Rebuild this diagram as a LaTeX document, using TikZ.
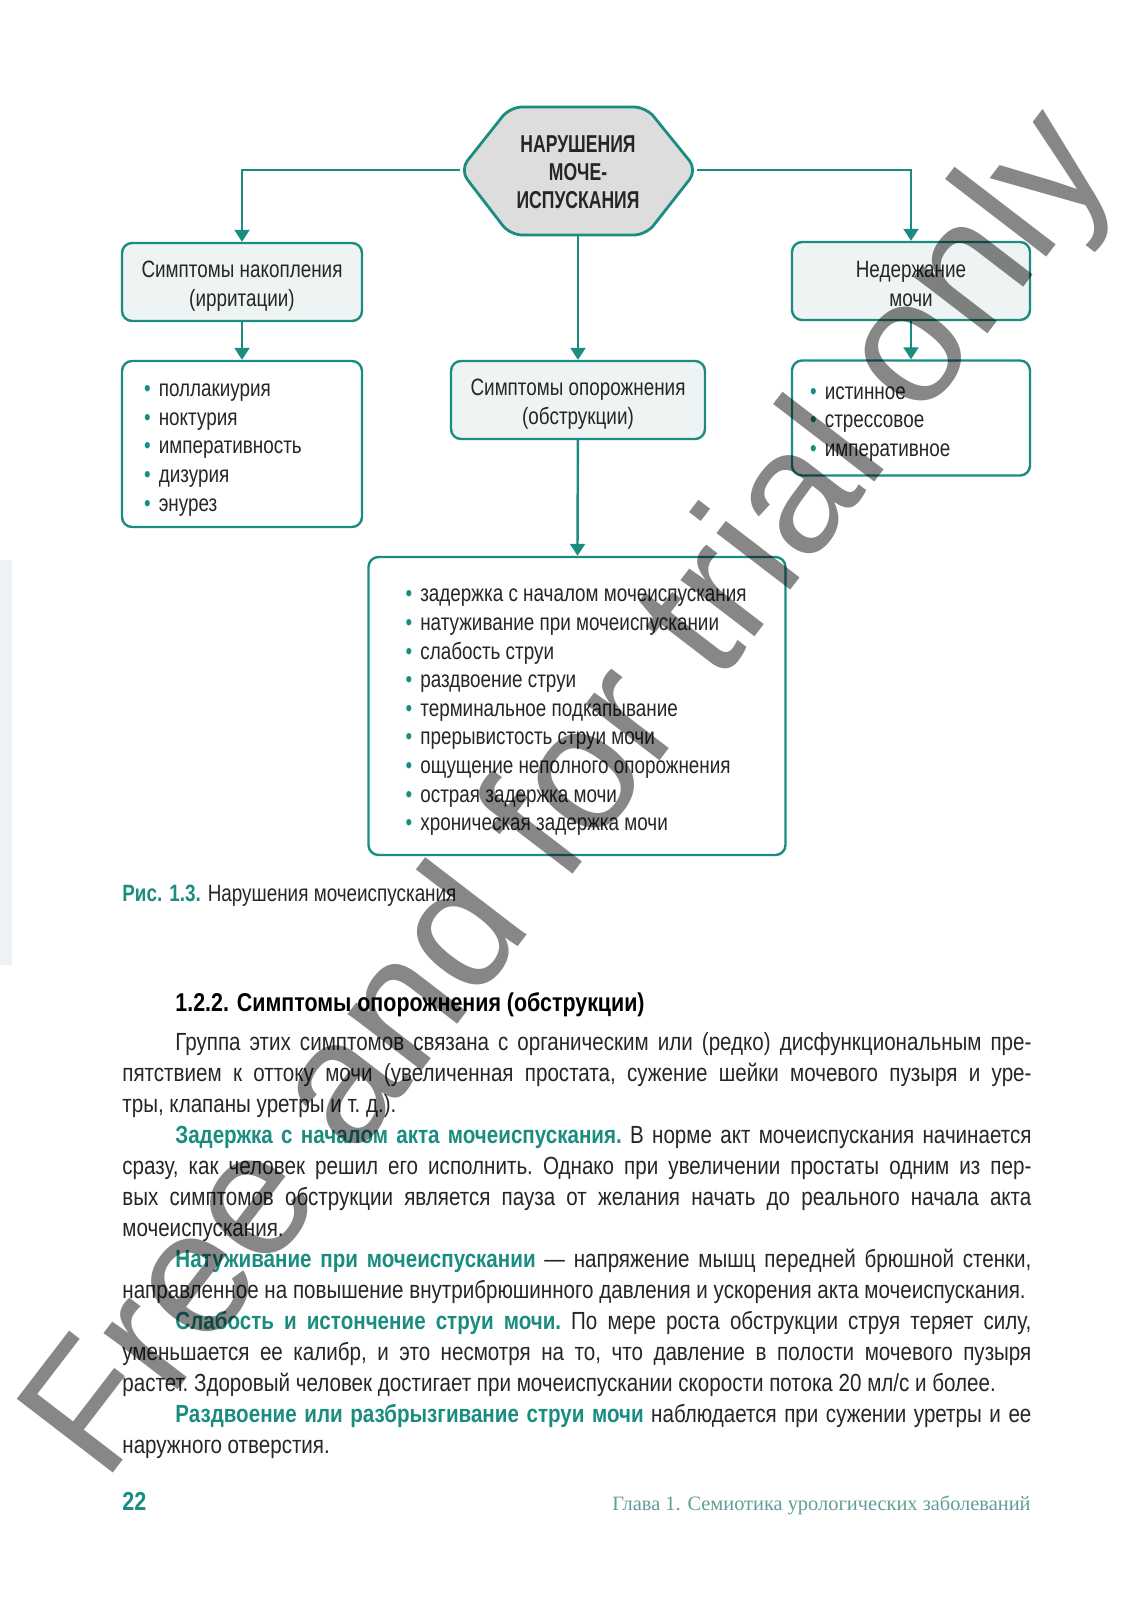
\documentclass[tikz,border=0pt]{standalone}
\usepackage{fontspec}
\setmainfont{Liberation Sans}
\newfontfamily\diagfont[FakeStretch=0.8]{Liberation Sans}
\newfontfamily\hexfont[FakeStretch=0.72]{Liberation Sans}
\newfontfamily\bodyfont[FakeStretch=0.83]{Liberation Sans}
\newfontfamily\footfont{Liberation Serif}
\usepackage{xcolor}
\usetikzlibrary{arrows.meta}

\definecolor{tealline}{HTML}{1A8C80}
\definecolor{hexfill}{HTML}{DDDDDD}
\definecolor{headfill}{HTML}{EEF3F3}
\definecolor{ink}{HTML}{262626}
\definecolor{footink}{HTML}{5F9E98}
\definecolor{stripfill}{HTML}{EEF2F6}

\newcommand{\blt}{{\color{tealline}\textbullet}\hspace{4pt}}
\newcommand{\tstrut}{\rule{0pt}{12.5pt}}

\tikzset{
  headbox/.style={draw=tealline, line width=1.2pt, fill=headfill, rounded corners=5pt,
    minimum height=39pt, inner sep=0pt, align=center, text=ink,
    font={\diagfont\fontsize{11.8pt}{14.5pt}\selectfont}},
  listbox/.style={draw=tealline, line width=1.2pt, fill=white, rounded corners=5pt, inner sep=0pt},
  listtext/.style={anchor=west, inner sep=0pt, align=left, text=ink,
    font={\diagfont\fontsize{11.8pt}{14.3pt}\selectfont}},
  hexline/.style={draw=tealline, line width=1.4pt, fill=hexfill, rounded corners=6pt},
  hextext/.style={align=center, text=ink, font={\hexfont\bfseries\fontsize{12.2pt}{14pt}\selectfont}},
  link/.style={draw=tealline, line width=1.2pt, -{Triangle[length=6pt,width=7.5pt]}},
  bodytext/.style={text width=454.5pt, align=justify, inner sep=0pt, text=ink,
    font={\bodyfont\fontsize{12.4pt}{15.5pt}\selectfont}},
}

\begin{document}
\begin{tikzpicture}[x=0.5pt, y=-0.5pt]
  \useasboundingbox (0,0) rectangle (1132,1600);
  \fill[stripfill] (0,560) rectangle (12,965);

  % шестиугольник
  \coordinate (hexL) at (460,170);
  \coordinate (hexR) at (697,170);
  \coordinate (hexB) at (578,235);
  \draw[hexline] (hexL) -- (510,107) -- (646,107) -- (hexR) -- (646,235) -- (510,235) -- cycle;
  \node[hextext] (hex) at (578,172) {НАРУШЕНИЯ\\МОЧЕ-\\ИСПУСКАНИЯ};

  % блоки
  \node[headbox, minimum width=120pt] (acc) at (242,282) {\tstrut Симптомы накопления\\(ирритации)};
  \node[listbox, minimum width=120pt, minimum height=83pt] (accl) at (242,444) {};
  \node[listtext] (accl-t) at ([xshift=11.5pt, yshift=-3pt]accl.west)
    {\blt поллакиурия\\\blt ноктурия\\\blt императивность\\\blt дизурия\\\blt энурез};

  \node[headbox, minimum width=127pt] (emp) at (578,400) {\tstrut Симптомы опорожнения\\(обструкции)};
  \node[listbox, minimum width=208.5pt, minimum height=149pt] (empl) at (577,706) {};
  \node[listtext] (empl-t) at ([xshift=19pt, yshift=-3.2pt]empl.west)
    {\blt задержка с началом мочеиспускания\\\blt натуживание при мочеиспускании\\
     \blt слабость струи\\\blt раздвоение струи\\\blt терминальное подкапывание\\
     \blt прерывистость струи мочи\\\blt ощущение неполного опорожнения\\
     \blt острая задержка мочи\\\blt хроническая задержка мочи};

  \node[headbox, minimum width=119pt] (inc) at (911,281) {\rule{0pt}{11pt}Недержание\\мочи};
  \node[listbox, minimum width=119pt, minimum height=57.5pt] (incl) at (911,418) {};
  \node[listtext] (incl-t) at ([xshift=9.5pt, yshift=-3pt]incl.west)
    {\blt истинное\\\blt стрессовое\\\blt императивное};

  % стрелки
  \draw[link] (hexL) -| (acc);
  \draw[link] (hexR) -| (inc);
  \draw[link] (hexB) -- (emp);
  \draw[link] (acc) -- (accl);
  \draw[link] (emp) -- (empl);
  \draw[link] (inc) -- (incl);

  % подпись и текст
  \node[anchor=base west, inner sep=0pt, text=ink, font={\diagfont\fontsize{11.8pt}{14pt}\selectfont}] (cap) at (122,901)
    {{\color{tealline}\bfseries Рис. 1.3.} Нарушения мочеиспускания};
  \node[anchor=base west, inner sep=0pt, text=black, font={\bodyfont\bfseries\fontsize{12.9pt}{15pt}\selectfont}] (head) at (175,1011)
    {1.2.2. Симптомы опорожнения (обструкции)};
  \node[bodytext, anchor=base west] (body) at (122,1050) {\tolerance=10000\hyphenpenalty=10000\frenchspacing
    \hspace*{26.5pt}Группа этих симптомов связана с органическим или (редко) дисфункциональным пре-\linebreak
    пятствием к оттоку мочи (увеличенная простата, сужение шейки мочевого пузыря и уре-\linebreak
    тры, клапаны уретры и т.~д.).\par
    \hspace*{26.5pt}{\color{tealline}\bfseries Задержка с началом акта мочеиспускания.} В норме акт мочеиспускания начинается \linebreak
    сразу, как человек решил его исполнить. Однако при увеличении простаты одним из пер-\linebreak
    вых симптомов обструкции является пауза от желания начать до реального начала акта \linebreak
    мочеиспускания.\par
    \hspace*{26.5pt}{\color{tealline}\bfseries Натуживание при мочеиспускании} — напряжение мышц передней брюшной стенки, \linebreak
    направленное на повышение внутрибрюшинного давления и ускорения акта мочеиспускания.\par
    \hspace*{26.5pt}{\color{tealline}\bfseries Слабость и истончение струи мочи.} По мере роста обструкции струя теряет силу, \linebreak
    уменьшается ее калибр, и это несмотря на то, что давление в полости мочевого пузыря \linebreak
    растет. Здоровый человек достигает при мочеиспускании скорости потока 20~мл/с и более.\par
    \hspace*{26.5pt}{\color{tealline}\bfseries Раздвоение или разбрызгивание струи мочи} наблюдается при сужении уретры и ее \linebreak
    наружного отверстия.};

  % колонтитул
  \node[anchor=base west, inner sep=0pt, text=tealline, font={\bodyfont\bfseries\fontsize{13pt}{15pt}\selectfont}] (pnum) at (122,1510) {22};
  \node[anchor=base east, inner sep=0pt, text=footink, font={\footfont\fontsize{10.2pt}{12pt}\selectfont}] (run) at (1031,1510)
    {Глава 1. Семиотика урологических заболеваний};

  % водяной знак
  \node[rotate=52.5, text=black, text opacity=0.47, font={\fontsize{88pt}{88pt}\selectfont}] (mark) at (575,797) {Free and for trial only};
\end{tikzpicture}
\end{document}
